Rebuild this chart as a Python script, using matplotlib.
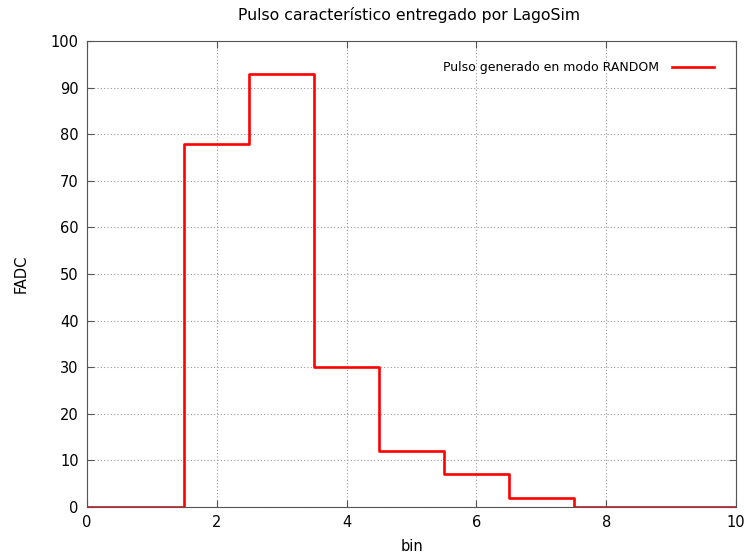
import matplotlib
matplotlib.use("Agg")
import matplotlib.pyplot as plt

bins = [0, 1, 2, 3, 4, 5, 6, 7, 8, 9, 10]
fadc = [0, 0, 78, 93, 30, 12, 7, 2, 0, 0, 0]
xticks = [0, 2, 4, 6, 8, 10]
yticks = [0, 10, 20, 30, 40, 50, 60, 70, 80, 90, 100]

plt.rcParams['font.family'] = ['DejaVu Sans']
fig = plt.figure(figsize=(7.47, 5.58), dpi=100)
ax = fig.add_axes([87/747, 1-507/558, (736-87)/747, (507-41)/558])

ax.step(bins, fadc, where='mid', color='#ff0000', lw=1.9, label='Pulso generado en modo RANDOM')
ax.set_xlim(0, 10)
ax.set_ylim(0, 100)
ax.set_xticks(xticks)
ax.set_yticks(yticks)
ax.tick_params(direction='in', top=True, right=True, length=5, width=0.8, color='#555555', labelsize=10.5, pad=6)
for s in ax.spines.values():
    s.set_color('#555555')
    s.set_linewidth(0.8)
ax.grid(True, color='#999999', linestyle=(0, (1, 2)), linewidth=0.8)
ax.set_axisbelow(True)

ax.set_xlabel('bin', fontsize=10.5, labelpad=6)
ax.set_ylabel('FADC', fontsize=10.5, labelpad=16)
fig.text(0.548, 1-15/558, 'Pulso característico entregado por LagoSim', ha='center', va='center', fontsize=11.3)

leg = ax.legend(loc='upper right', frameon=False, fontsize=9.0, markerfirst=False,
                handlelength=3.4, bbox_to_anchor=(0.98, 0.976), borderaxespad=0.3, handletextpad=1.0)

fig.savefig('out.png', dpi=100)
